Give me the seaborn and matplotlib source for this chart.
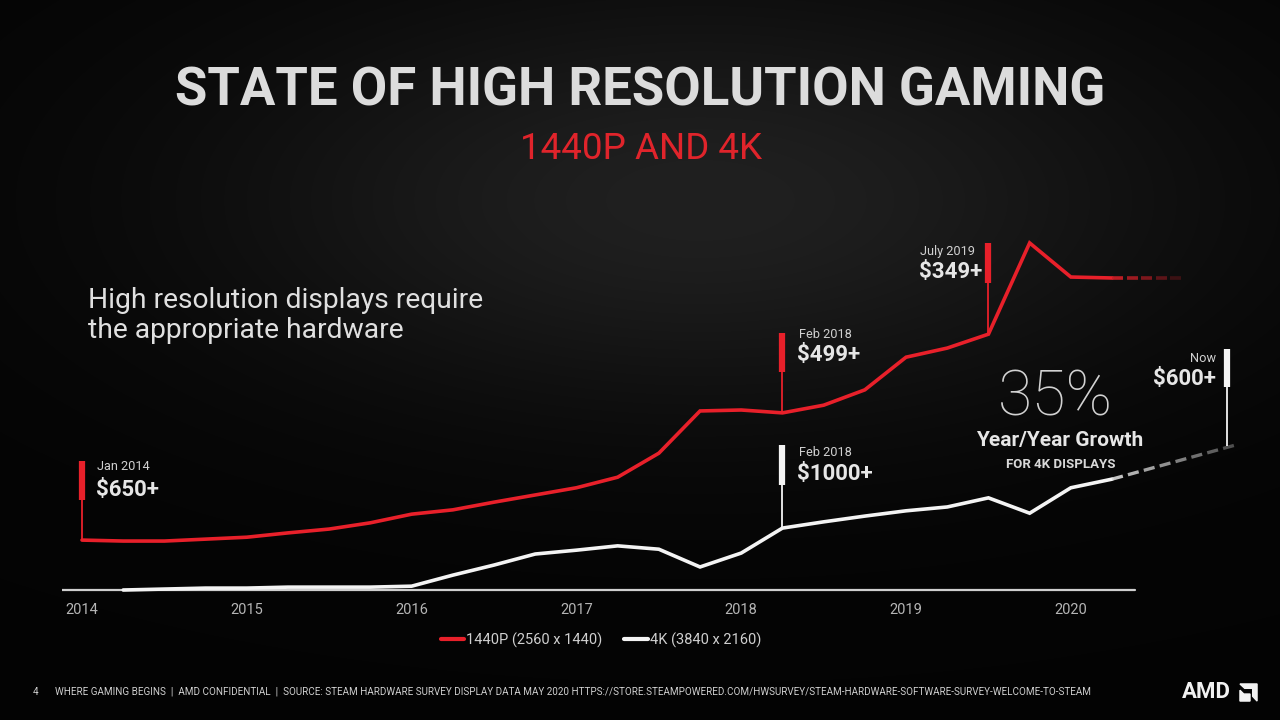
import numpy as np
import pandas as pd
import matplotlib
matplotlib.use("Agg")
import matplotlib.pyplot as plt
import matplotlib.patches as mpatches
import seaborn as sns

# ---------------- data ----------------
periods = [2014.0, 2014.25, 2014.5, 2014.75,
           2015.0, 2015.25, 2015.5, 2015.75,
           2016.0, 2016.25, 2016.5, 2016.75,
           2017.0, 2017.25, 2017.5, 2017.75,
           2018.0, 2018.25, 2018.5, 2018.75,
           2019.0, 2019.25, 2019.5, 2019.75,
           2020.0, 2020.25]
share_1440p = [1.04, 1.02, 1.02, 1.06,
               1.10, 1.19, 1.27, 1.40,
               1.58, 1.67, 1.83, 1.98,
               2.13, 2.35, 2.85, 3.73,
               3.75, 3.69, 3.85, 4.17,
               4.85, 5.04, 5.33, 7.23,
               6.52, 6.50]
share_4k = [np.nan, 0.00, 0.02, 0.04,
            0.04, 0.06, 0.06, 0.06,
            0.08, 0.31, 0.52, 0.75,
            0.83, 0.92, 0.85, 0.48,
            0.77, 1.29, 1.42, 1.54,
            1.65, 1.73, 1.92, 1.60,
            2.13, 2.31]
series_names = ["1440P (2560 x 1440)", "4K (3840 x 2160)"]
# projected (dashed) continuation
proj_x_1440p = [2020.25, 2020.69]
proj_y_1440p = [6.50, 6.50]
proj_x_4k = [2020.25, 2021.02]
proj_y_4k = [2.31, 3.04]
year_ticks = [2014, 2015, 2016, 2017, 2018, 2019, 2020]
year_labels = ["2014", "2015", "2016", "2017", "2018", "2019", "2020"]

RED = "#e8202a"
WHITE = "#f4f4f4"

sns.set_theme(style="dark")
plt.rcParams["font.family"] = ["Roboto", "DejaVu Sans"]

fig = plt.figure(figsize=(12.8, 7.2), dpi=100)
fig.patch.set_facecolor("#060606")

# background gradient (lighter towards the upper centre)
bg = fig.add_axes([0, 0, 1, 1], zorder=-10)
yy, xx = np.mgrid[0:720, 0:1280]
d2 = ((xx - 700) / 700.0) ** 2 + ((yy - 200) / 300.0) ** 2
val = 0.015 + 0.11 * np.exp(-2.0 * d2)
bg.imshow(val, cmap="gray", vmin=0, vmax=1, aspect="auto", interpolation="bilinear")
bg.axis("off")

# main axes
ax = fig.add_axes([62 / 1280, 120 / 720, 1188 / 1280, 380 / 720])
ax.set_facecolor("none")

df = pd.DataFrame({
    "period": periods * 2,
    "share": share_1440p + share_4k,
    "series": [series_names[0]] * len(periods) + [series_names[1]] * len(periods),
}).dropna()

sns.lineplot(data=df, x="period", y="share", hue="series",
             palette={series_names[0]: RED, series_names[1]: WHITE},
             linewidth=2.6, ax=ax, legend=True, sort=False)
for ln in ax.lines:
    ln.set_solid_joinstyle("miter")

ax.set_xlim(2013.8786, 2021.087)
ax.set_ylim(-0.208, 7.708)
for s in ax.spines.values():
    s.set_visible(False)
ax.grid(False)
ax.set_yticks([])
ax.set_xlabel("")
ax.set_ylabel("")
ax.set_xticks(year_ticks)
ax.set_xticklabels(year_labels, color="#b5b5b5", fontsize=10.5)
ax.tick_params(axis="x", length=0, pad=2)

# baseline
ax.axhline(0, xmin=0, xmax=(1135 - 62) / 1188, color="#cfcfcf", lw=1.6, zorder=1)


def faded_dash(xs, ys, color, n, frac, a0, a1, lw):
    t = np.linspace(0, 1, n + 1)
    for i in range(n):
        a = t[i]
        b = t[i] + (t[i + 1] - t[i]) * frac
        alpha = a0 + (a1 - a0) * i / max(n - 1, 1)
        ax.plot([xs[0] + (xs[1] - xs[0]) * a, xs[0] + (xs[1] - xs[0]) * b],
                [ys[0] + (ys[1] - ys[0]) * a, ys[0] + (ys[1] - ys[0]) * b],
                color=color, alpha=alpha, lw=lw, solid_capstyle="butt",
                clip_on=False, zorder=3)


faded_dash(proj_x_1440p, proj_y_1440p, "#c81e26", 5, 0.78, 0.95, 0.25, 2.6)
faded_dash(proj_x_4k, proj_y_4k, "#d8d8d8", 8, 0.68, 0.9, 0.35, 2.4)


# annotation markers: thick bar on top, thin line down to the data point
def marker(x, y_data, y_bar_bot, y_bar_top, color):
    ax.plot([x, x], [y_data, y_bar_bot], color=color, lw=1.3, clip_on=False,
            solid_capstyle="butt", zorder=4)
    ax.plot([x, x], [y_bar_bot, y_bar_top], color=color, lw=4.5, clip_on=False,
            solid_capstyle="butt", zorder=4)


marker(2014.0, share_1440p[0], 1.875, 2.69, RED)
marker(2018.25, share_1440p[17], 4.54, 5.35, RED)
marker(2019.5, share_1440p[22], 6.40, 7.23, RED)
marker(2018.25, share_4k[17], 2.19, 3.02, WHITE)
marker(2020.95, 3.0, 4.23, 5.02, WHITE)


def ftext(x, y, s, **kw):
    fig.text(x / 1280, 1 - y / 720, s, **kw)


TXT = "#e6e6e6"
SMALL = 9.2
BIG = 16
# small event labels
ftext(97, 467, "Jan 2014", fontsize=SMALL, color="#d0d0d0", va="center", ha="left")
ftext(96, 490, "$650+", fontsize=BIG, color=TXT, va="center", ha="left", fontweight="bold")
ftext(799, 334, "Feb 2018", fontsize=SMALL, color="#d0d0d0", va="center", ha="left")
ftext(797, 355, "$499+", fontsize=BIG, color=TXT, va="center", ha="left", fontweight="bold")
ftext(920, 251, "July 2019", fontsize=SMALL, color="#d0d0d0", va="center", ha="left")
ftext(919, 272, "$349+", fontsize=BIG, color=TXT, va="center", ha="left", fontweight="bold")
ftext(799, 453, "Feb 2018", fontsize=SMALL, color="#d0d0d0", va="center", ha="left")
ftext(797, 474, "$1000+", fontsize=BIG, color=TXT, va="center", ha="left", fontweight="bold")
ftext(1216, 358, "Now", fontsize=SMALL, color="#d0d0d0", va="center", ha="right")
ftext(1216, 379, "$600+", fontsize=BIG, color=TXT, va="center", ha="right", fontweight="bold")

# growth callout
ftext(1055, 398, "35%", fontsize=45, color="#d2d2d2", va="center", ha="center", fontweight="light")
ftext(1060, 440, "Year/Year Growth", fontsize=15, color=TXT, va="center", ha="center", fontweight="bold")
ftext(1061, 465, "FOR 4K DISPLAYS", fontsize=9.5, color="#d8d8d8", va="center", ha="center", fontweight="bold")

# title
ftext(640, 91, "STATE OF HIGH RESOLUTION GAMING", fontsize=38, color="#dcdcdc",
      va="center", ha="center", fontweight="bold")
ftext(641, 149, "1440P AND 4K", fontsize=26.5, color="#e0242b", va="center", ha="center")

# left message
ftext(88, 300, "High resolution displays require", fontsize=20.3, color="#e0e0e0",
      va="center", ha="left")
ftext(88, 331, "the appropriate hardware", fontsize=20.3, color="#e0e0e0",
      va="center", ha="left")

# legend
handles, labels = ax.get_legend_handles_labels()
leg = ax.legend(handles, labels, loc="center", bbox_to_anchor=(601 / 1280, 1 - 640 / 720),
                bbox_transform=fig.transFigure, ncol=2, frameon=False,
                handlelength=1.6, handletextpad=0.15, columnspacing=1.5, fontsize=10.5)
for t in leg.get_texts():
    t.set_color("#cfcfcf")
for h in leg.get_lines():
    h.set_linewidth(3)

# footer
ftext(33, 692, "4", fontsize=7.2, color="#cfcfcf", va="center", ha="left")
ftext(55, 692, "WHERE GAMING BEGINS  |  AMD CONFIDENTIAL  |  SOURCE: STEAM HARDWARE SURVEY DISPLAY DATA MAY 2020 "
      "HTTPS://STORE.STEAMPOWERED.COM/HWSURVEY/STEAM-HARDWARE-SOFTWARE-SURVEY-WELCOME-TO-STEAM",
      fontsize=7.15, color="#cfcfcf", va="center", ha="left")
ftext(1182, 692, "AMD", fontsize=16, color="#f2f2f2", va="center", ha="left", fontweight="bold")
# small AMD arrow mark
la = fig.add_axes([1239 / 1280, 1 - 702 / 720, 19 / 1280, 19 / 720])
la.set_xlim(0, 1); la.set_ylim(0, 1); la.axis("off")
la.add_patch(mpatches.Polygon([[0.05, 0.95], [0.95, 0.95], [0.95, 0.05], [0.72, 0.3],
                               [0.72, 0.72], [0.3, 0.72]], closed=True, color="#f2f2f2"))
la.add_patch(mpatches.Polygon([[0.05, 0.05], [0.05, 0.62], [0.25, 0.42], [0.58, 0.42],
                               [0.58, 0.05]], closed=True, color="#f2f2f2"))

fig.savefig("out.png", dpi=100, facecolor=fig.get_facecolor())
